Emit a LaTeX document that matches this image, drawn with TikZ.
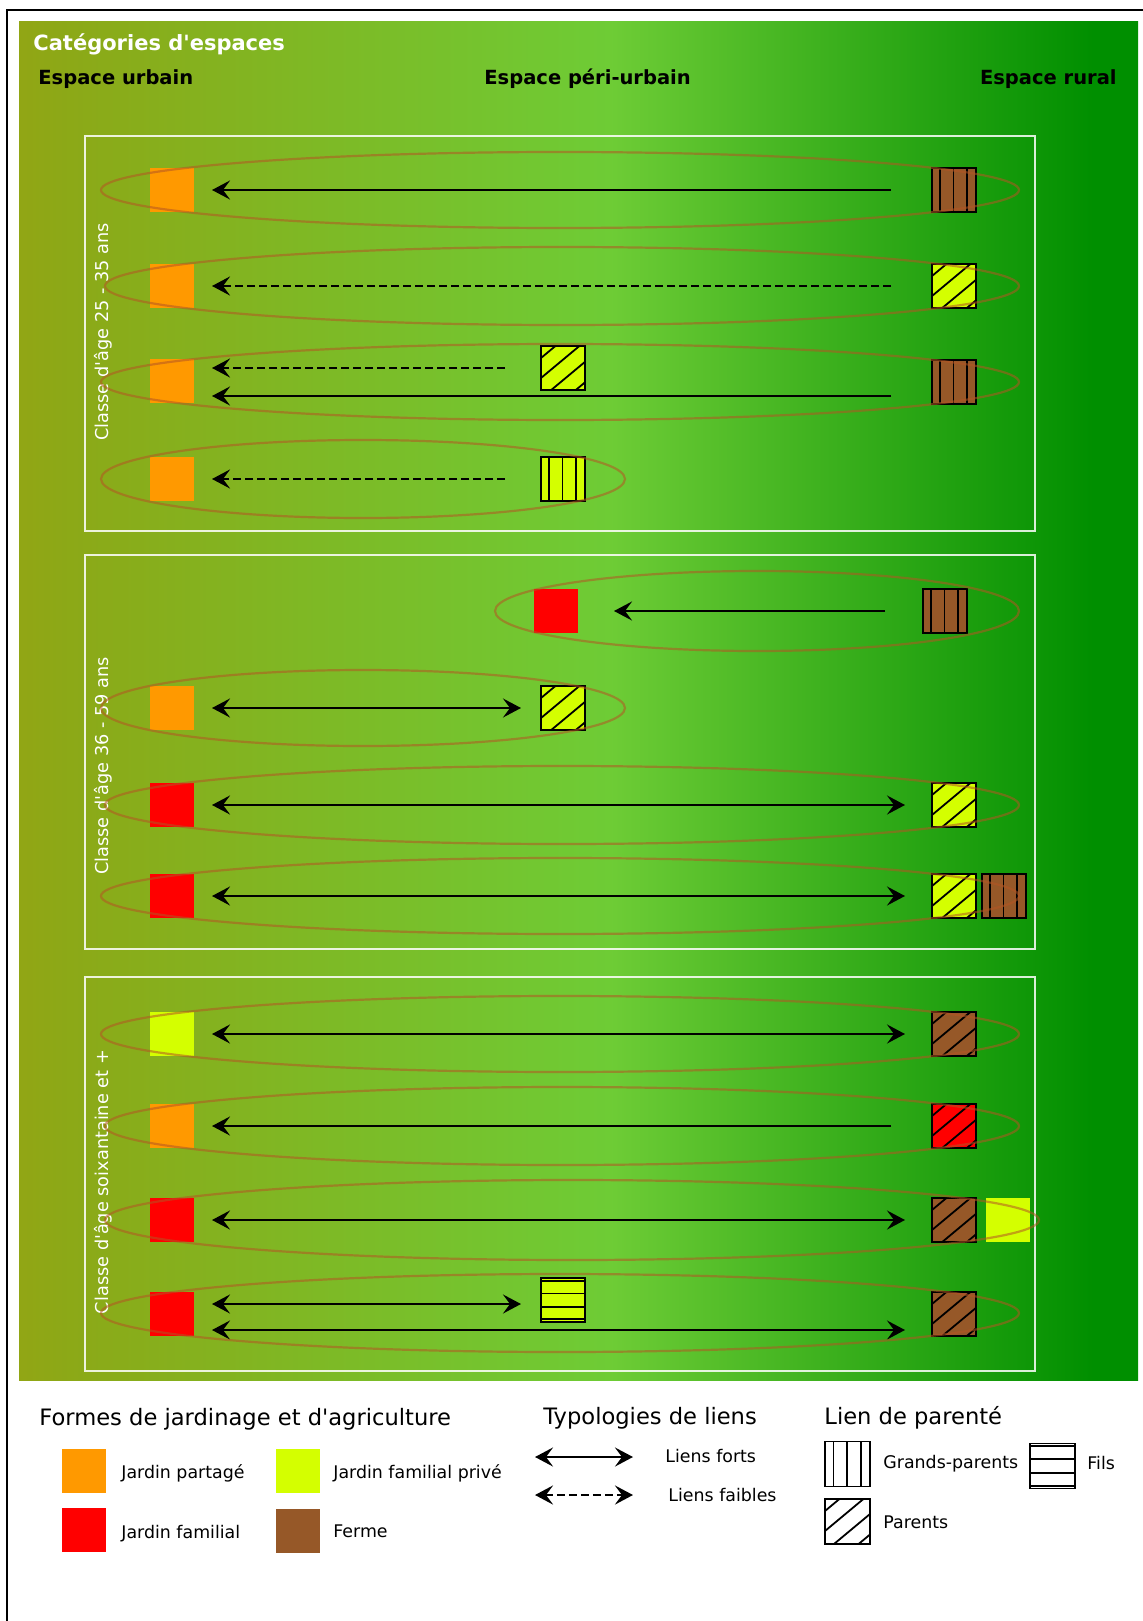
\documentclass[tikz,border=0pt]{standalone}
\usepackage{fontspec}
\setmainfont{DejaVu Sans}
\usetikzlibrary{arrows.meta,calc}
\definecolor{cPartage}{RGB}{255,153,0}
\definecolor{cFamilial}{RGB}{255,0,0}
\definecolor{cPrive}{RGB}{212,255,0}
\definecolor{cFerme}{RGB}{150,88,40}
\definecolor{cGroupe}{RGB}{180,85,35}
% degrade urbain -> rural (le rectangle couvre 25bp..75bp)
\pgfdeclarehorizontalshading{espaces}{100bp}{rgb(0bp)=(0.57,0.65,0.08); rgb(25bp)=(0.57,0.65,0.08);
  rgb(27bp)=(0.55,0.66,0.09); rgb(51.5bp)=(0.43,0.80,0.21); rgb(73bp)=(0,0.56,0); rgb(100bp)=(0,0.56,0)}
\tikzset{
  % carres des formes de jardinage
  carre/.style={minimum size=22pt, inner sep=0pt, outer sep=0pt},
  partage/.style={carre, fill=cPartage},
  familial/.style={carre, fill=cFamilial},
  prive/.style={carre, fill=cPrive},
  ferme/.style={carre, fill=cFerme},
  vide/.style={carre, minimum size=22.5pt, fill=white},
  % hachures du lien de parente
  hachln/.style={line width=0.9pt, black},
  gparents/.style={draw=black, line width=1pt, path picture={
      \foreach \fr in {0.19,0.49,0.8}
        \draw[hachln] ($(path picture bounding box.north west)!\fr!(path picture bounding box.north east)$)
          -- ($(path picture bounding box.south west)!\fr!(path picture bounding box.south east)$);}},
  parents/.style={draw=black, line width=1pt, path picture={
      \foreach \dc in {12,32,52.5,73}
        \draw[hachln] ([yshift=-\dc*0.5pt]path picture bounding box.north west) -- ++(1.2*\dc,-\dc);}},
  fils/.style={draw=black, line width=1pt, path picture={
      \foreach \fr in {0.06,0.35,0.65,0.94}
        \draw[hachln] ($(path picture bounding box.north west)!\fr!(path picture bounding box.south west)$)
          -- ($(path picture bounding box.north east)!\fr!(path picture bounding box.south east)$);}},
  % liens
  pointe/.tip={Stealth[length=9pt,width=9.5pt,inset=3.5pt]},
  fort/.style={line width=1.1pt, black},
  faible/.style={line width=1.4pt, black, dash pattern=on 4pt off 2pt},
  % ellipses et cadres
  groupe/.style={draw=cGroupe, draw opacity=0.55, line width=1.1pt},
  classe/.style={draw=white, draw opacity=0.85, line width=0.6pt},
  % textes
  titre/.style={anchor=base west, inner sep=0pt, text=white, font=\bfseries\fontsize{10.5pt}{12pt}\selectfont},
  entete/.style={inner sep=0pt, font=\bfseries\fontsize{9.75pt}{12pt}\selectfont},
  age/.style={rotate=90, inner sep=0pt, text=white, font=\fontsize{8.85pt}{10pt}\selectfont},
  legtitre/.style={anchor=base west, inner sep=0pt, font=\fontsize{11.3pt}{13pt}\selectfont},
  legtexte/.style={anchor=base west, inner sep=0pt, font=\fontsize{8.7pt}{10pt}\selectfont},
}

\begin{document}
\begin{tikzpicture}[x=0.5pt, y=-0.5pt]
  \useasboundingbox (0,0) rectangle (1143,1621);
  % cadre et fond degrade
  \draw[line width=1pt] (7,1650) -- (7,10) -- (1160,10);
  \shade[shading=espaces] (19,22) rectangle (1138,1380);
  \node[titre] (categories) at (33,51) {Catégories d\textquotesingle espaces};
  \node[entete, anchor=base west] (urbain) at (38,85) {Espace urbain};
  \node[entete, anchor=base west] (periurbain) at (484,85) {Espace péri-urbain};
  \node[entete, anchor=base east] (rural) at (1117,85) {Espace rural};

  % classes d'age
  \draw[classe] (85,136) rectangle (1035,531);
  \draw[classe] (85,555) rectangle (1035,949);
  \draw[classe] (85,977) rectangle (1035,1371);
  \node[age] (age1) at (103,332) {Classe d\textquotesingle âge 25 - 35 ans};
  \node[age] (age2) at (103,766) {Classe d\textquotesingle âge 36 - 59 ans};
  \node[age] (age3) at (103,1182) {Classe d\textquotesingle âge soixantaine et +};

  % 25 - 35 ans
  \node[partage] (u1) at (172,190) {};
  \node[ferme, gparents] (f1) at (954,190) {};
  \node[partage] (u2) at (172,286) {};
  \node[prive, parents] (f2) at (954,286) {};
  \node[partage] (u3) at (172,381) {};
  \node[prive, parents] (m3) at (563,368) {};
  \node[ferme, gparents] (f3) at (954,382) {};
  \node[partage] (u4) at (172,479) {};
  \node[prive, gparents] (m4) at (563,479) {};
  % 36 - 59 ans
  \node[familial] (u5) at (556,611) {};
  \node[ferme, gparents] (f5) at (945,611) {};
  \node[partage] (u6) at (172,708) {};
  \node[prive, parents] (m6) at (563,708) {};
  \node[familial] (u7) at (172,805) {};
  \node[prive, parents] (f7) at (954,805) {};
  \node[familial] (u8) at (172,896) {};
  \node[prive, parents] (f8) at (954,896) {};
  \node[ferme, gparents] (g8) at (1004,896) {};
  % soixantaine et +
  \node[prive] (u9) at (172,1034) {};
  \node[ferme, parents] (f9) at (954,1034) {};
  \node[partage] (u10) at (172,1126) {};
  \node[familial, parents] (f10) at (954,1126) {};
  \node[familial] (u11) at (172,1220) {};
  \node[ferme, parents] (f11) at (954,1220) {};
  \node[prive] (p11) at (1008,1220) {};
  \node[familial] (u12) at (172,1314) {};
  \node[prive, fils] (m12) at (563,1300) {};
  \node[ferme, parents] (f12) at (954,1314) {};

  % liens
  \draw[fort, -pointe, shorten <=20.5pt, shorten >=9pt] (f1) -- (u1);
  \draw[faible, -pointe, shorten <=20.5pt, shorten >=9pt] (f2) -- (u2);
  \draw[faible, -pointe, shorten <=18pt, shorten >=9pt] (m3.west) -- (m3.west -| u3.east);
  \draw[fort, -pointe, shorten <=20.5pt, shorten >=9pt] ([yshift=-7pt]f3.west) -- ([yshift=-7pt]f3.west -| u3.east);
  \draw[faible, -pointe, shorten <=18pt, shorten >=9pt] (m4) -- (u4);
  \draw[fort, -pointe, shorten <=19pt, shorten >=18pt] (f5) -- (u5);
  \draw[fort, pointe-pointe, shorten <=9pt, shorten >=10pt] (u6) -- (m6);
  \draw[fort, pointe-pointe, shorten <=9pt, shorten >=13.5pt] (u7) -- (f7);
  \draw[fort, pointe-pointe, shorten <=9pt, shorten >=13.5pt] (u8) -- (f8);
  \draw[fort, pointe-pointe, shorten <=9pt, shorten >=13.5pt] (u9) -- (f9);
  \draw[fort, -pointe, shorten <=20.5pt, shorten >=9pt] (f10) -- (u10);
  \draw[fort, pointe-pointe, shorten <=9pt, shorten >=13.5pt] (u11) -- (f11);
  \draw[fort, pointe-pointe, shorten <=9pt, shorten >=10pt] ([yshift=5pt]u12.east) -- ([yshift=5pt]u12.east -| m12.west);
  \draw[fort, pointe-pointe, shorten <=9pt, shorten >=13.5pt] ([yshift=-8pt]u12.east) -- ([yshift=-8pt]u12.east -| f12.west);

  % ellipses des familles
  \foreach \cx/\cy/\rx/\ry in {560/190/459/38, 562/286/457/39, 560/382/459/38, 363/479/262/39,
      757/611/262/40, 363/708/262/38, 562/805/457/39, 560/896/459/38,
      560/1034/459/38, 562/1126/457/39, 572/1220/467/40, 560/1313/459/39}
    \draw[groupe] (\cx,\cy) ellipse [x radius=\rx, y radius=\ry];

  % legende : formes
  \node[legtitre] (formes) at (39,1425) {Formes de jardinage et d\textquotesingle agriculture};
  \node[partage] (lpartage) at (84,1471) {};
  \node[legtexte] (tpartage) at (121,1478) {Jardin partagé};
  \node[familial] (lfamilial) at (84,1530) {};
  \node[legtexte] (tfamilial) at (121,1538) {Jardin familial};
  \node[prive] (lprive) at (298,1471) {};
  \node[legtexte] (tprive) at (333,1478) {Jardin familial privé};
  \node[ferme] (lferme) at (298,1531) {};
  \node[legtexte] (tferme) at (333,1537) {Ferme};
  % legende : liens
  \node[legtitre] (typologies) at (543,1424) {Typologies de liens};
  \coordinate (fortA) at (535,1457);
  \coordinate (fortB) at (633,1457);
  \draw[fort, pointe-pointe] (fortA) -- (fortB);
  \node[legtexte] (tfort) at (665,1462) {Liens forts};
  \coordinate (faibleA) at (535,1495);
  \coordinate (faibleB) at (633,1495);
  \draw[faible, pointe-pointe] (faibleA) -- (faibleB);
  \node[legtexte] (tfaible) at (668,1501) {Liens faibles};
  % legende : parente
  \node[legtitre] (parente) at (824,1424) {Lien de parenté};
  \node[vide, gparents, line width=0.75pt] (lgp) at (847.5,1464) {};
  \node[legtexte] (tgp) at (883,1468) {Grands-parents};
  \node[vide, fils, line width=0.75pt] (lfils) at (1052.5,1466) {};
  \node[legtexte] (tfils) at (1087,1469) {Fils};
  \node[vide, parents, line width=0.75pt] (lparents) at (847.5,1521.5) {};
  \node[legtexte] (tparents) at (883,1528) {Parents};
\end{tikzpicture}
\end{document}
